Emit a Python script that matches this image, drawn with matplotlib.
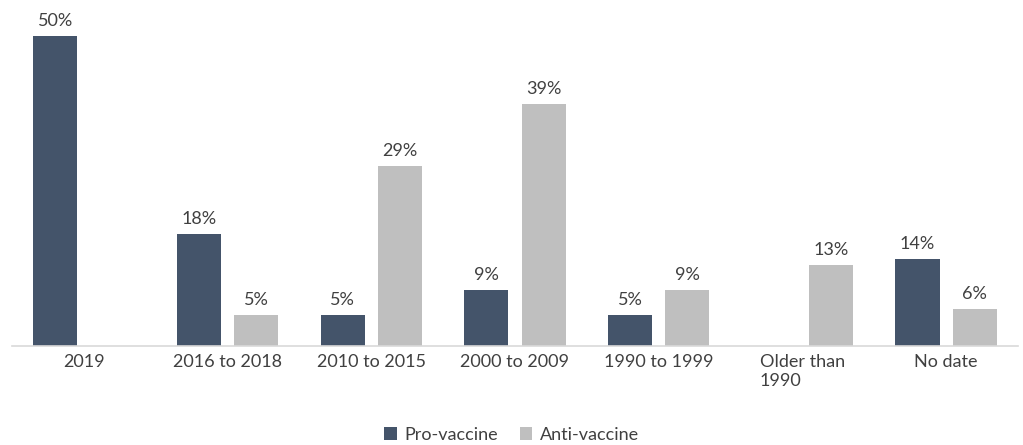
import matplotlib
matplotlib.use("Agg")
import matplotlib.pyplot as plt
import numpy as np

categories = ["2019", "2016 to 2018", "2010 to 2015", "2000 to 2009",
              "1990 to 1999", "Older than\n1990", "No date"]
pro_vaccine = [50, 18, 5, 9, 5, None, 14]
anti_vaccine = [None, 5, 29, 39, 9, 13, 6]

PRO_COLOR = "#44546A"
ANTI_COLOR = "#BFBFBF"
TEXT_COLOR = "#404040"

plt.rcParams["font.family"] = ["Lato", "DejaVu Sans"]

fig = plt.figure(figsize=(10.23, 4.45), dpi=100)
ax = fig.add_axes([12 / 1023, 99 / 445, 1006 / 1023, 341 / 445])

x = np.arange(len(categories))
width = 0.307
offset = 0.199


def draw(values, shift, color, label):
    xs = [xi + shift for xi, v in zip(x, values) if v is not None]
    vs = [v for v in values if v is not None]
    bars = ax.bar(xs, vs, width=width, color=color, label=label)
    for b, v in zip(bars, vs):
        ax.annotate(f"{v}%", (b.get_x() + b.get_width() / 2, v),
                    xytext=(0, 5), textcoords="offset points",
                    ha="center", va="bottom", fontsize=13, color=TEXT_COLOR)
    return bars


draw(pro_vaccine, -offset, PRO_COLOR, "Pro-vaccine")
draw(anti_vaccine, offset, ANTI_COLOR, "Anti-vaccine")

ax.set_xlim(-0.5, len(categories) - 0.5)
ax.set_ylim(0, 55)
ax.set_xticks(x)
ax.set_xticklabels(categories, fontsize=13, color=TEXT_COLOR)
for lab in ax.get_xticklabels():
    lab.set_multialignment("left")
ax.tick_params(axis="x", length=0, pad=6)
ax.set_yticks([])
for side in ["top", "right", "left"]:
    ax.spines[side].set_visible(False)
ax.spines["bottom"].set_color("#D9D9D9")
ax.spines["bottom"].set_linewidth(1.2)

fig.legend(loc="center", bbox_to_anchor=(0.5, 10 / 445), ncol=2, frameon=False,
           fontsize=13, labelcolor=TEXT_COLOR, handlelength=0.7, handleheight=0.7,
           handletextpad=0.4, columnspacing=1.2)

fig.savefig("out.png", dpi=100)
